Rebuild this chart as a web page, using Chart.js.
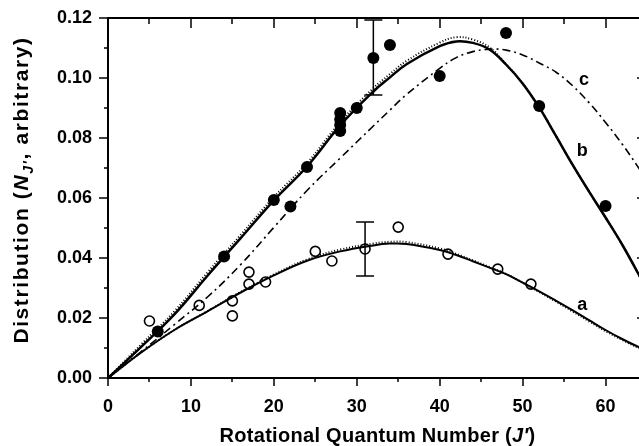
<!DOCTYPE html>
<html lang="en">
<head>
<meta charset="UTF-8">
<title>Rotational distribution</title>
<script src="https://cdn.jsdelivr.net/npm/chart.js"></script>
<style>
  html, body { margin: 0; padding: 0; background: #fff; overflow: hidden; }
  #wrap { width: 660px; height: 446px; }
</style>
</head>
<body>
<div id="wrap"><canvas id="chart" width="660" height="446"></canvas></div>
<script>
// model curves
const curveJ  = [0, 4, 8, 12, 16, 20, 24, 28, 32, 34, 36, 40, 42, 44, 46, 48, 50, 52, 54, 56, 58, 60, 62, 64, 65];
const curveA  = [0, 0.0085, 0.0160, 0.0222, 0.0285, 0.0342, 0.0391, 0.0422, 0.0442, 0.0448, 0.0447, 0.0427, 0.0410, 0.0389, 0.0368, 0.0346, 0.0318, 0.0289, 0.0258, 0.0226, 0.0193, 0.0160, 0.0130, 0.0103, 0.0090];
const curveAdot = [0, 0.0085, 0.0160, 0.0223, 0.0287, 0.0345, 0.0395, 0.0428, 0.0448, 0.0454, 0.0453, 0.0432, 0.0414, 0.0392, 0.0370, 0.0347, 0.0318, 0.0287, 0.0255, 0.0222, 0.0189, 0.0156, 0.0127, 0.0100, 0.0088];
const curveB  = [0, 0.0104, 0.0212, 0.0341, 0.0466, 0.0592, 0.0705, 0.0842, 0.0955, 0.1002, 0.1046, 0.1106, 0.1122, 0.1117, 0.1095, 0.1045, 0.0982, 0.0902, 0.0808, 0.0712, 0.0622, 0.0535, 0.0445, 0.0345, 0.0290];
const curveBdot = [0, 0.0112, 0.0222, 0.0352, 0.0477, 0.0603, 0.0716, 0.0853, 0.0966, 0.1013, 0.1057, 0.1118, 0.1136, 0.1128, 0.1102, 0.1047, 0.0982, 0.0902, 0.0808, 0.0712, 0.0622, 0.0535, 0.0445, 0.0345, 0.0290];
const curveC  = [0, 0.0088, 0.0178, 0.0270, 0.0378, 0.0502, 0.0625, 0.0733, 0.0840, 0.0893, 0.0945, 0.1032, 0.1068, 0.1088, 0.1096, 0.1093, 0.1077, 0.1050, 0.1020, 0.0975, 0.0918, 0.0852, 0.0780, 0.0700, 0.0655];

// measured points
const filledJ = [6, 14, 20, 22, 24, 28, 28, 28, 28, 30, 32, 34, 40, 48, 52, 60];
const filledN = [0.0155, 0.0405, 0.0593, 0.0572, 0.0703, 0.0883, 0.0862, 0.0843, 0.0823, 0.0900, 0.1067, 0.1110, 0.1007, 0.1150, 0.0907, 0.0573];
const openJ = [5, 11, 15, 15, 17, 17, 19, 25, 27, 31, 35, 41, 47, 51];
const openN = [0.0190, 0.0242, 0.0257, 0.0207, 0.0353, 0.0313, 0.0320, 0.0422, 0.0390, 0.0430, 0.0503, 0.0413, 0.0363, 0.0313];

// error bars
const errJ  = [32, 31];
const errLo = [0.0943, 0.0340];
const errHi = [0.1193, 0.0520];

// curve labels
const curveNames = ['a', 'b', 'c'];
const nameJ = [57.2, 57.2, 57.4];
const nameN = [0.0243, 0.0757, 0.0993];

const xTicks = [0, 10, 20, 30, 40, 50, 60];

function pts(xs, ys) { return xs.map((x, i) => ({ x: x, y: ys[i] })); }

const FONT = "'Liberation Sans', Arial, sans-serif";

function curve(data, width, dash) {
  return { type: 'line', data: data, borderColor: '#000', borderWidth: width, borderDash: dash || [],
           pointRadius: 0, tension: 0.4, fill: false };
}

const framePlugin = {
  id: 'frame',
  afterDatasetsDraw(chart) {
    const ctx = chart.ctx, xs = chart.scales.x, ys = chart.scales.y;
    ctx.save();
    ctx.strokeStyle = '#000';
    // error bars
    ctx.lineWidth = 1.5;
    for (let i = 0; i < errJ.length; i++) {
      const px = xs.getPixelForValue(errJ[i]);
      const lo = ys.getPixelForValue(errLo[i]), hi = ys.getPixelForValue(errHi[i]);
      ctx.beginPath();
      ctx.moveTo(px, lo); ctx.lineTo(px, hi);
      ctx.moveTo(px - 9, lo); ctx.lineTo(px + 9, lo);
      ctx.moveTo(px - 9, hi); ctx.lineTo(px + 9, hi);
      ctx.stroke();
    }
    // curve names
    ctx.fillStyle = '#000';
    ctx.font = 'bold 18px ' + FONT;
    ctx.textAlign = 'center';
    ctx.textBaseline = 'middle';
    for (let i = 0; i < curveNames.length; i++) {
      ctx.fillText(curveNames[i], xs.getPixelForValue(nameJ[i]), ys.getPixelForValue(nameN[i]));
    }
    ctx.restore();
  },
  afterDraw(chart) {
    const ctx = chart.ctx, a = chart.chartArea, xs = chart.scales.x, ys = chart.scales.y;
    ctx.save();
    ctx.strokeStyle = '#000';
    ctx.lineWidth = 2;
    ctx.strokeRect(a.left, a.top, a.right - a.left, a.bottom - a.top);
    ctx.lineWidth = 1.5;
    ctx.beginPath();
    for (let k = 0; k <= 13; k++) {
      const px = Math.round(xs.getPixelForValue(k * 5));
      const major = k % 2 === 0;
      ctx.moveTo(px, a.bottom); ctx.lineTo(px, a.bottom + (major ? 8 : 4));
      ctx.moveTo(px, a.top); ctx.lineTo(px, a.top + (major ? 10 : 6));
    }
    for (let k = 0; k <= 12; k++) {
      const py = Math.round(ys.getPixelForValue(k * 0.01));
      const major = k % 2 === 0;
      ctx.moveTo(a.left, py); ctx.lineTo(a.left - (major ? 9 : 4), py);
      ctx.moveTo(a.right, py); ctx.lineTo(a.right - (major ? 10 : 6), py);
    }
    ctx.stroke();

    // axis titles
    ctx.fillStyle = '#000';
    ctx.textBaseline = 'alphabetic';
    ctx.textAlign = 'left';
    const xParts = [['Rotational Quantum Number (', 'bold 20px'], ['J\u2032', 'italic bold 20px'], [')', 'bold 20px']];
    drawParts(ctx, xParts, (a.left + a.right) / 2, 442, 0.3);

    ctx.translate(28, (a.top + a.bottom) / 2 - 8);
    ctx.rotate(-Math.PI / 2);
    const yParts = [['Distribution (', 'bold 21px'], ['N', 'italic bold 21px'], ['J\u2032', 'italic bold 14px', 5], [', arbitrary)', 'bold 21px']];
    drawParts(ctx, yParts, 0, 0, 1.6);
    ctx.restore();
  }
};

function drawParts(ctx, parts, cx, y, spacing) {
  ctx.letterSpacing = spacing + 'px';
  let total = 0;
  parts.forEach(p => { ctx.font = p[1] + ' ' + FONT; total += ctx.measureText(p[0]).width; });
  let x = cx - total / 2;
  parts.forEach(p => {
    ctx.font = p[1] + ' ' + FONT;
    ctx.fillText(p[0], x, y + (p[2] || 0));
    x += ctx.measureText(p[0]).width;
  });
  ctx.letterSpacing = '0px';
}

new Chart(document.getElementById('chart'), {
  data: {
    datasets: [
      curve(pts(curveJ, curveAdot), 2, [1, 2]),
      curve(pts(curveJ, curveA), 2),
      curve(pts(curveJ, curveBdot), 2, [1, 2]),
      curve(pts(curveJ, curveB), 2.5),
      curve(pts(curveJ, curveC), 1.6, [8, 4, 2, 4]),
      { type: 'scatter', data: pts(openJ, openN), pointRadius: 5, pointBorderWidth: 1.6,
        pointBackgroundColor: '#fff', pointBorderColor: '#000' },
      { type: 'scatter', data: pts(filledJ, filledN), pointRadius: 6, pointBorderWidth: 0,
        pointBackgroundColor: '#000', pointBorderColor: '#000' }
    ]
  },
  options: {
    responsive: false,
    animation: false,
    devicePixelRatio: 1,
    layout: { padding: { top: 18, right: 13, left: 0, bottom: 0 } },
    plugins: { legend: { display: false }, tooltip: { enabled: false } },
    scales: {
      x: {
        type: 'linear', min: 0, max: 65,
        afterFit: s => { s.height = 68; s.paddingLeft = 0; s.paddingRight = 0; },
        grid: { display: false, drawTicks: false },
        border: { display: false },
        afterBuildTicks: s => { s.ticks = xTicks.map(v => ({ value: v })); },
        ticks: { padding: 18, maxRotation: 0, color: '#000',
                 font: { family: FONT, size: 18, weight: 'bold' } }
      },
      y: {
        type: 'linear', min: 0, max: 0.12,
        afterFit: s => { s.width = 108; s.paddingTop = 0; s.paddingBottom = 0; },
        grid: { display: false, drawTicks: false },
        border: { display: false },
        ticks: { stepSize: 0.02, padding: 16, color: '#000',
                 callback: v => v.toFixed(2),
                 font: { family: FONT, size: 18, weight: 'bold' } }
      }
    }
  },
  plugins: [framePlugin]
});
</script>
</body>
</html>
